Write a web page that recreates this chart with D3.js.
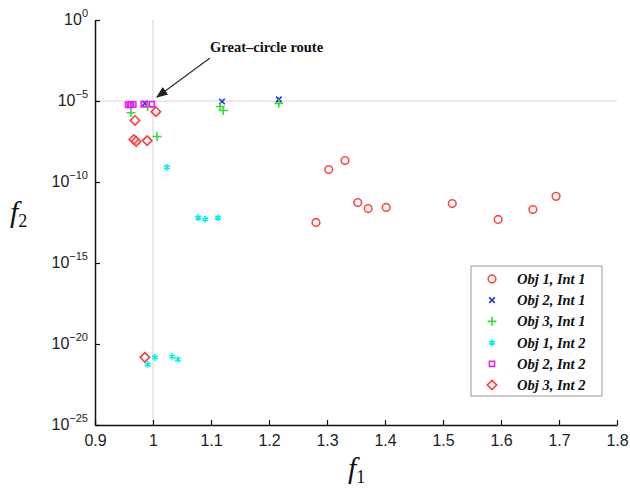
<!DOCTYPE html>
<meta charset="UTF-8">
<html>
<head>
  <style>
    body { margin: 0; background: #fff; }
    .tick-label { font: 16px "Liberation Sans", sans-serif; fill: #222; }
    .leg text { font: bold italic 14.5px "Liberation Serif", serif; fill: #111; }
  </style>
</head>
<body>
  <script src="https://cdn.jsdelivr.net/npm/d3@7/dist/d3.min.js"></script>
  <script>
    // series: [f1, f2]
    var obj1Int1 = [[1.281, 3.2e-13], [1.303, 5.9e-10], [1.331, 2.1e-9], [1.353, 5.4e-12], [1.371, 2.3e-12],
                    [1.402, 2.7e-12], [1.516, 4.7e-12], [1.595, 4.9e-13], [1.655, 2.0e-12], [1.695, 1.3e-11]];
    var obj2Int1 = [[0.986, 7.1e-6], [1.119, 9.3e-6], [1.217, 1.26e-5]];
    var obj3Int1 = [[0.962, 1.9e-6], [0.991, 4.6e-6], [1.007, 6.5e-8], [1.116, 4.6e-6], [1.121, 2.6e-6], [1.217, 7.1e-6]];
    var obj1Int2 = [[1.024, 8e-10], [1.078, 6.3e-13], [1.090, 5e-13], [1.112, 6.3e-13],
                    [0.991, 5.4e-22], [1.003, 1.5e-21], [1.033, 1.7e-21], [1.043, 1.1e-21]];
    var obj2Int2 = [[0.957, 6e-6], [0.960, 5.5e-6], [0.962, 6e-6], [0.966, 6e-6], [0.984, 6.3e-6], [0.998, 6.3e-6]];
    var obj3Int2 = [[0.969, 6.3e-7], [0.967, 4.2e-8], [0.971, 3.2e-8], [0.990, 3.6e-8], [1.005, 2.2e-6], [0.986, 1.5e-21]];

    var xTicks = [0.9, 1, 1.1, 1.2, 1.3, 1.4, 1.5, 1.6, 1.7, 1.8];
    var yExps = [0, -5, -10, -15, -20, -25];

    var series = [
      { name: "Obj 1, Int 1", data: obj1Int1, sym: d3.symbolCircle, size: 46, color: "#ff4a4a" },
      { name: "Obj 2, Int 1", data: obj2Int1, sym: d3.symbolTimes, size: 22, color: "#2a2ae0" },
      { name: "Obj 3, Int 1", data: obj3Int1, sym: d3.symbolPlus, size: 28, color: "#33dd33" },
      { name: "Obj 1, Int 2", data: obj1Int2, sym: d3.symbolAsterisk, size: 30, color: "#00f0f0" },
      { name: "Obj 2, Int 2", data: obj2Int2, sym: d3.symbolSquare2, size: 34, color: "#ee22ee" },
      { name: "Obj 3, Int 2", data: obj3Int2, sym: d3.symbolDiamond2, size: 56, color: "#ff3a3a" }
    ];

    var margin = { top: 20, right: 13, bottom: 71, left: 95 },
      width = 630 - margin.left - margin.right,
      height = 496 - margin.top - margin.bottom;

    var svg = d3.select("body").append("svg")
      .attr("width", 630).attr("height", 496);
    var g = svg.append("g").attr("transform", "translate(" + margin.left + "," + margin.top + ")");

    var x = d3.scaleLinear().domain([0.9, 1.8]).range([0, width]);
    var y = d3.scaleLog().domain([1e-25, 1]).range([height, 0]);

    // reference lines at f1 = 1 and f2 = 1e-5
    g.append("line").attr("x1", x(1)).attr("x2", x(1)).attr("y1", 0).attr("y2", height)
      .attr("stroke", "#d4d4d4").attr("stroke-width", 1);
    g.append("line").attr("x1", 0).attr("x2", width).attr("y1", y(1e-5)).attr("y2", y(1e-5))
      .attr("stroke", "#d4d4d4").attr("stroke-width", 1);

    // axes
    var xAxis = d3.axisBottom(x).tickValues(xTicks).tickSizeInner(-5).tickSizeOuter(0)
      .tickFormat(function (d) { return d3.format("")(+d.toFixed(1)); });
    var gx = g.append("g").attr("transform", "translate(0," + height + ")").call(xAxis);
    gx.select(".domain").attr("stroke", "#111").attr("stroke-width", 1.5);
    gx.selectAll(".tick line").attr("stroke", "#111").attr("stroke-width", 1.2);
    gx.selectAll(".tick text").attr("class", "tick-label").attr("y", 10).attr("dy", "0.71em");

    var yAxis = d3.axisLeft(y).tickValues(yExps.map(function (e) { return Math.pow(10, e); }))
      .tickSizeInner(-5).tickSizeOuter(0).tickFormat("");
    var gy = g.append("g").call(yAxis);
    gy.select(".domain").attr("stroke", "#111").attr("stroke-width", 1.5);
    gy.selectAll(".tick line").attr("stroke", "#111").attr("stroke-width", 1.2);
    gy.selectAll(".tick").each(function (d, i) {
      var t = d3.select(this).append("text").attr("class", "tick-label")
        .attr("x", -7).attr("y", 4).attr("text-anchor", "end");
      t.append("tspan").text("10");
      t.append("tspan").attr("dy", -8).attr("font-size", 11).text(String(yExps[i]).replace("-", "\u2212"));
    });

    // points
    series.forEach(function (s) {
      var path = d3.symbol().type(s.sym).size(s.size)();
      g.append("g").selectAll("path").data(s.data).enter().append("path")
        .attr("d", path)
        .attr("transform", function (d) { return "translate(" + x(d[0]) + "," + y(d[1]) + ")"; })
        .attr("fill", "none").attr("stroke", s.color).attr("stroke-width", 1.6);
    });

    // annotation
    svg.append("defs").append("marker").attr("id", "arr")
      .attr("viewBox", "0 0 10 10").attr("refX", 9).attr("refY", 5)
      .attr("markerWidth", 9).attr("markerHeight", 9).attr("orient", "auto-start-reverse")
      .append("path").attr("d", "M0,1 L10,5 L0,9 Z").attr("fill", "#222");
    svg.append("line").attr("x1", 210).attr("y1", 58).attr("x2", 157).attr("y2", 97)
      .attr("stroke", "#333").attr("stroke-width", 1.3).attr("marker-end", "url(#arr)");
    svg.append("text").attr("x", 210).attr("y", 52)
      .style("font", "bold 14.5px 'Liberation Serif', serif").attr("fill", "#111")
      .text("Great\u2013circle route");

    // axis titles
    var t1 = svg.append("text").attr("x", 348).attr("y", 478)
      .style("font", "italic 30px 'Liberation Serif', serif").attr("fill", "#111");
    t1.append("tspan").text("f");
    t1.append("tspan").attr("font-size", 18).attr("font-style", "normal").attr("dy", 5).text("1");
    var t2 = svg.append("text").attr("x", 10).attr("y", 222)
      .style("font", "italic 30px 'Liberation Serif', serif").attr("fill", "#111");
    t2.append("tspan").text("f");
    t2.append("tspan").attr("font-size", 18).attr("font-style", "normal").attr("dy", 5).text("2");

    // legend
    var leg = svg.append("g").attr("class", "leg").attr("transform", "translate(471,266)");
    leg.append("rect").attr("width", 131).attr("height", 130)
      .attr("fill", "#fff").attr("stroke", "#999").attr("stroke-width", 1);
    series.forEach(function (s, i) {
      var row = leg.append("g").attr("transform", "translate(0," + (13 + i * 21.2) + ")");
      row.append("path").attr("d", d3.symbol().type(s.sym).size(s.size)())
        .attr("transform", "translate(21,0)")
        .attr("fill", "none").attr("stroke", s.color).attr("stroke-width", 1.6);
      row.append("text").attr("x", 46).attr("y", 5).text(s.name);
    });
  </script>
</body>
</html>
